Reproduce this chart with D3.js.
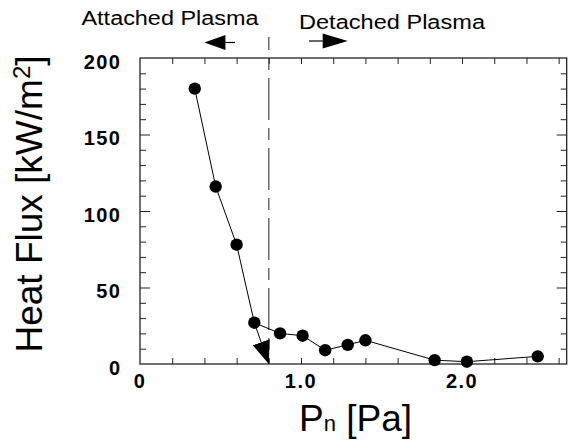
<!DOCTYPE html>
<html lang="en">
<head>
<meta charset="UTF-8">
<title>Heat Flux vs Neutral Pressure</title>
<script src="https://d3js.org/d3.v7.min.js"></script>
<style>
  body { margin: 0; background: #fff; }
  svg { display: block; }
  text { font-family: "Liberation Sans", Arial, Helvetica, sans-serif; fill: #000; }
  .frame { fill: none; stroke: #111; stroke-width: 1.2px; }
  .ticks line { stroke: #222; stroke-width: 1px; }
  .tick-label text { font-size: 20px; font-weight: bold; letter-spacing: 1.5px; }
  .data-line { fill: none; stroke: #000; stroke-width: 1px; }
  .dot { fill: #000; }
  .divider { stroke: #444; stroke-width: 1.2px; stroke-dasharray: 42,8,12,8; stroke-dashoffset: 29; }
  .region-label { font-size: 20px; }
  .axis-title { font-size: 37px; }
</style>
</head>
<body>
<svg width="571" height="440"></svg>
<script>
// data
const pressure = [0.34, 0.47, 0.60, 0.71, 0.87, 1.01, 1.15, 1.29, 1.40, 1.83, 2.03, 2.47];
const heatFlux = [180, 116, 78, 27, 20, 18.5, 9, 12.5, 15.5, 2.5, 1.5, 5];
const xTickValues = [0, 1, 2];
const xTickLabels = ["0", "1.0", "2.0"];
const yTickValues = [0, 50, 100, 150, 200];
const yTickLabels = ["0", "50", "100", "150", "200"];
const detachPressure = 0.8;
const regionLabels = ["Attached Plasma", "Detached Plasma"];
const leftArrow = [0.59, 0.40];   // from, to (Pa)
const rightArrow = [1.05, 1.29];

const svg = d3.select("svg");

const x = d3.scaleLinear().domain([0, 2.65]).range([140, 566.7]);
const y = d3.scaleLinear().domain([0, 200]).range([364, 58]);

const xMax = x.domain()[1];
const minorX = d3.range(0.2, xMax, 0.2);
const minorY = d3.range(10, 200, 10).filter(v => v % 50 !== 0);

// frame
svg.append("rect")
    .attr("class", "frame")
    .attr("x", x(0))
    .attr("y", y(200))
    .attr("width", x(xMax) - x(0))
    .attr("height", y(0) - y(200));

// inward ticks on all four sides
function ticks(axis, tx, ty) {
    svg.append("g")
        .attr("class", "ticks")
        .attr("transform", `translate(${tx},${ty})`)
        .call(axis.tickFormat("").tickSizeOuter(0))
        .call(g => g.select(".domain").remove());
}
ticks(d3.axisBottom(x).tickValues(minorX).tickSize(-6), 0, y(0));
ticks(d3.axisTop(x).tickValues(minorX).tickSize(-6), 0, y(200));
ticks(d3.axisLeft(y).tickValues(minorY).tickSize(-6), x(0), 0);
ticks(d3.axisLeft(y).tickValues(yTickValues.slice(1, -1)).tickSize(-10), x(0), 0);
ticks(d3.axisRight(y).tickValues(minorY).tickSize(-6), x(xMax), 0);
ticks(d3.axisRight(y).tickValues(yTickValues.slice(1, -1)).tickSize(-10), x(xMax), 0);

// tick labels
svg.append("g")
    .attr("class", "tick-label")
    .attr("transform", `translate(-0.5,${y(0)})`)
    .call(d3.axisBottom(x).tickValues(xTickValues).tickSize(0).tickPadding(10)
        .tickFormat((d, i) => xTickLabels[i]))
    .call(g => g.select(".domain").remove());

svg.append("g")
    .attr("class", "tick-label")
    .attr("transform", `translate(${x(0) + 1.5},4)`)
    .call(d3.axisLeft(y).tickValues(yTickValues).tickSize(0).tickPadding(20)
        .tickFormat((d, i) => yTickLabels[i]))
    .call(g => g.select(".domain").remove());

// detachment divider
svg.append("line")
    .attr("class", "divider")
    .attr("x1", x(detachPressure)).attr("x2", x(detachPressure))
    .attr("y1", 37).attr("y2", y(0));

// data line + dots
const pts = pressure.map((p, i) => [p, heatFlux[i]]);
svg.append("path")
    .datum(pts)
    .attr("class", "data-line")
    .attr("d", d3.line().x(d => x(d[0])).y(d => y(d[1])));

svg.selectAll(".dot")
    .data(pts)
    .join("circle")
    .attr("class", "dot")
    .attr("cx", d => x(d[0]))
    .attr("cy", d => y(d[1]))
    .attr("r", 6.2);

// arrow from the last attached point down to the detachment pressure
svg.append("defs").append("marker")
    .attr("id", "tri")
    .attr("markerUnits", "userSpaceOnUse")
    .attr("viewBox", "0 0 23 18")
    .attr("refX", 23).attr("refY", 9)
    .attr("markerWidth", 23).attr("markerHeight", 18)
    .attr("orient", "auto")
    .append("path")
    .attr("d", "M0,0L23,9L0,18Z")
    .attr("fill", "#000");

svg.append("line")
    .attr("x1", x(pressure[3])).attr("y1", y(heatFlux[3]))
    .attr("x2", x(detachPressure)).attr("y2", y(0))
    .attr("stroke", "#000").attr("stroke-width", 1)
    .attr("marker-end", "url(#tri)");

// region arrows on top
function topArrow(from, to, yy, headLen) {
    const x0 = x(from), x1 = x(to);
    const dir = Math.sign(x1 - x0);
    const base = x1 - dir * headLen;
    svg.append("line")
        .attr("x1", x0).attr("x2", base)
        .attr("y1", yy).attr("y2", yy)
        .attr("stroke", "#000").attr("stroke-width", 1.2);
    svg.append("path")
        .attr("d", `M${x1},${yy}L${base},${yy - 7.5}L${base},${yy + 7.5}Z`)
        .attr("fill", "#000");
}
topArrow(leftArrow[0], leftArrow[1], 42.5, 21);
topArrow(rightArrow[0], rightArrow[1], 41, 25);

svg.append("text")
    .attr("class", "region-label")
    .attr("x", 81.5).attr("y", 24.5)
    .attr("textLength", 177).attr("lengthAdjust", "spacingAndGlyphs")
    .text(regionLabels[0]);

svg.append("text")
    .attr("class", "region-label")
    .attr("x", 299).attr("y", 29)
    .attr("textLength", 186).attr("lengthAdjust", "spacingAndGlyphs")
    .text(regionLabels[1]);

// axis titles
const yTitle = svg.append("text")
    .attr("class", "axis-title")
    .attr("text-anchor", "middle")
    .attr("transform", "translate(42,204) rotate(-90)");
yTitle.append("tspan").text("Heat Flux [kW/m");
yTitle.append("tspan").attr("font-size", 24).attr("dy", -12).text("2");
yTitle.append("tspan").attr("dy", 12).text("]");

const xTitle = svg.append("text")
    .attr("class", "axis-title")
    .attr("x", 299).attr("y", 431);
xTitle.append("tspan").text("P");
xTitle.append("tspan").attr("font-size", 22).text("n");
xTitle.append("tspan").text(" [Pa]");
</script>
</body>
</html>
